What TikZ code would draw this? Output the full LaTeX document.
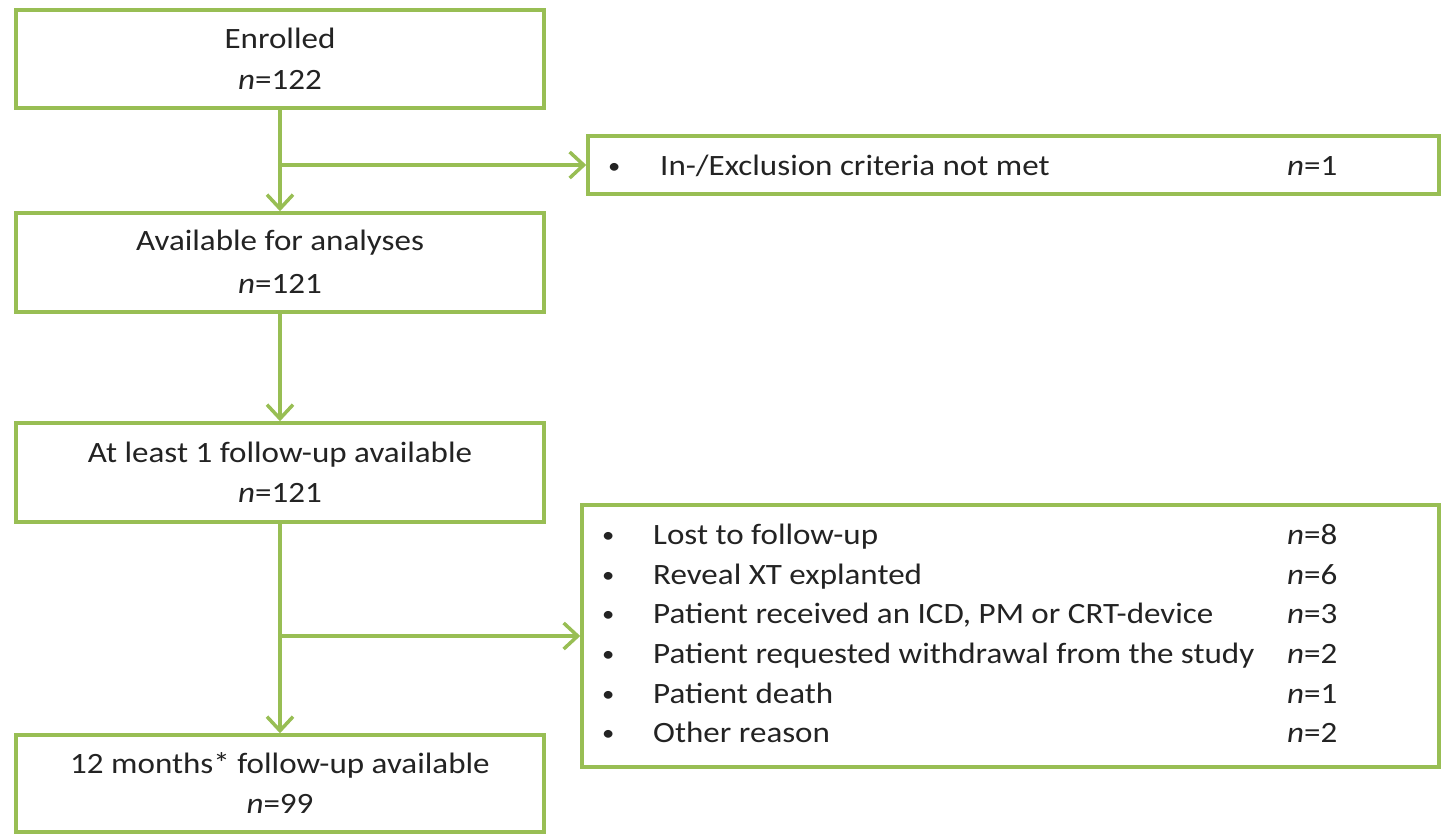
\documentclass[tikz,border=0pt]{standalone}
\usepackage{fontspec}
\setmainfont{Carlito}[FakeStretch=1.12]
\usetikzlibrary{arrows.meta}
\definecolor{boxgreen}{RGB}{152,190,84}
\definecolor{textgray}{RGB}{35,35,35}
\begin{document}
\begin{tikzpicture}[x=1pt,y=-1pt,
  flowbox/.style={draw=boxgreen, line width=3.5pt, inner sep=0pt, fill=white},
  flowarrow/.style={draw=boxgreen, line width=3.5pt, -{Straight Barb[length=14pt,width=26pt]}},
  txt/.style={font=\fontsize{29.5}{40}\selectfont, text=textgray, inner sep=0pt},
  bul/.style={font=\fontsize{22}{30}\selectfont, text=textgray, inner sep=0pt},
]
\useasboundingbox (0,0) rectangle (1441,833);

% left column boxes
\node[flowbox, minimum width=528pt, minimum height=98pt] (enr)   at (280,59)    {};
\node[flowbox, minimum width=528pt, minimum height=99pt] (avail) at (280,262.5) {};
\node[flowbox, minimum width=528pt, minimum height=99pt] (atl)   at (280,472.5) {};
\node[flowbox, minimum width=528pt, minimum height=97pt] (twelve) at (280,783.5) {};

% right boxes
\node[flowbox, minimum width=851pt, minimum height=58pt]  (excl) at (1013.5,165) {};
\node[flowbox, minimum width=857pt, minimum height=262pt] (drop) at (1010.5,636) {};

% left texts
\node[txt, anchor=base] (enrA) at (280,48) {Enrolled};
\node[txt, anchor=base] (enrB) at (280,89) {\textit{n}=122};
\node[txt, anchor=base] (avA) at (280,250) {Available for analyses};
\node[txt, anchor=base] (avB) at (280,293) {\textit{n}=121};
\node[txt, anchor=base] (atA) at (280,462) {At least 1 follow-up available};
\node[txt, anchor=base] (atB) at (280,502) {\textit{n}=121};
\node[txt, anchor=base] (twA) at (280,773) {12 months* follow-up available};
\node[txt, anchor=base] (twB) at (280,813) {\textit{n}=99};

% exclusion box text
\node[bul, anchor=base west] (exB) at (608,173) {\textbullet};
\node[txt, anchor=base west] (exT) at (660,175) {In-/Exclusion criteria not met};
\node[txt, anchor=base west] (exN) at (1287,175) {\textit{n}=1};

% drop-out box text
\node[bul, anchor=base west] (b1) at (602,542) {\textbullet};
\node[txt, anchor=base west] (t1) at (653,544) {Lost to follow-up};
\node[txt, anchor=base west] (n1) at (1287,544) {\textit{n}=8};
\node[bul, anchor=base west] (b2) at (602,582) {\textbullet};
\node[txt, anchor=base west] (t2) at (653,584) {Reveal XT explanted};
\node[txt, anchor=base west] (n2) at (1287,584) {\textit{n}=6};
\node[bul, anchor=base west] (b3) at (602,621) {\textbullet};
\node[txt, anchor=base west] (t3) at (653,623) {Patient received an ICD, PM or CRT-device};
\node[txt, anchor=base west] (n3) at (1287,623) {\textit{n}=3};
\node[bul, anchor=base west] (b4) at (602,661) {\textbullet};
\node[txt, anchor=base west] (t4) at (653,663) {Patient requested withdrawal from the study};
\node[txt, anchor=base west] (n4) at (1287,663) {\textit{n}=2};
\node[bul, anchor=base west] (b5) at (602,701) {\textbullet};
\node[txt, anchor=base west] (t5) at (653,703) {Patient death};
\node[txt, anchor=base west] (n5) at (1287,703) {\textit{n}=1};
\node[bul, anchor=base west] (b6) at (602,740) {\textbullet};
\node[txt, anchor=base west] (t6) at (653,742) {Other reason};
\node[txt, anchor=base west] (n6) at (1287,742) {\textit{n}=2};

% connectors
\coordinate (j1) at (280,165);
\coordinate (j2) at (280,636);
\draw[flowarrow] (enr.south) -- (avail.north);
\draw[flowarrow] (j1) -- (excl.west);
\draw[flowarrow] (avail.south) -- (atl.north);
\draw[flowarrow] (atl.south) -- (twelve.north);
\draw[flowarrow] (j2) -- (drop.west);
\end{tikzpicture}
\end{document}
